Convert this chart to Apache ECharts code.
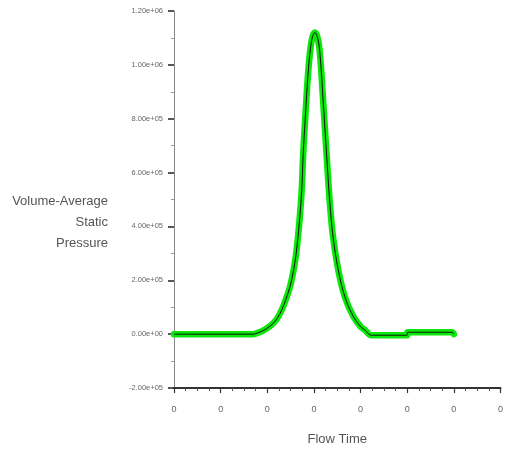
<!DOCTYPE html>
<html>
<head>
<meta charset="utf-8">
<script src="https://cdn.jsdelivr.net/npm/echarts@6/dist/echarts.min.js"></script>
<style>html,body{margin:0;padding:0;background:#fff}#c{width:506px;height:460px}</style>
</head>
<body>
<div id="c"></div>
<script>
const flowTime = [0, 1.70, 1.78, 1.89, 2.06, 2.20, 2.31, 2.40, 2.49, 2.56, 2.62, 2.69, 2.74, 2.77, 2.81, 2.88, 2.95, 3.02, 3.08, 3.13, 3.20, 3.27, 3.34, 3.41, 3.52, 3.66, 3.84, 4.00, 4.09, 4.23, 5.00, 5.005, 5.96, 6.00];
const pressure = [0, 0, 4e3, 1.1e4, 3e4, 5.5e4, 9e4, 1.3e5, 1.78e5, 2.35e5, 3.0e5, 4.2e5, 5.4e5, 6.7e5, 7.9e5, 9.8e5, 1.09e6, 1.12e6, 1.10e6, 1.04e6, 8.6e5, 6.7e5, 4.9e5, 3.6e5, 2.4e5, 1.4e5, 6.7e4, 2.8e4, 1.6e4, -4e3, -4e3, 7e3, 7e3, 0];
const yTickLabels = ['-2.00e+05', '0.00e+00', '2.00e+05', '4.00e+05', '6.00e+05', '8.00e+05', '1.00e+06', '1.20e+06'];
const xTickLabels = ['0', '0', '0', '0', '0', '0', '0', '0'];
const yTitleLines = ['Volume-Average', 'Static', 'Pressure'];
const xTitle = 'Flow Time';

const pts = flowTime.map((x, i) => [x, pressure[i]]);
const chart = echarts.init(document.getElementById('c'), null, {renderer: 'canvas'});
chart.setOption({
  animation: false,
  backgroundColor: '#fff',
  grid: {left: 174, right: 4, top: 11, bottom: 72},
  xAxis: {
    type: 'value', min: 0, max: 7, interval: 1,
    name: xTitle, nameLocation: 'middle', nameGap: 45,
    nameTextStyle: {fontFamily: 'Liberation Sans', fontSize: 13, color: '#555'},
    axisLine: {show: true, onZero: false, lineStyle: {color: '#333', width: 2}},
    axisTick: {show: true, length: 5, lineStyle: {color: '#333', width: 1.2}},
    minorTick: {show: true, splitNumber: 4, length: 3, lineStyle: {color: '#555'}},
    splitLine: {show: false},
    axisLabel: {margin: 17, fontFamily: 'Liberation Sans', fontSize: 9, color: '#666',
      formatter: (v) => xTickLabels[Math.round(v)]}
  },
  yAxis: {
    type: 'value', min: -2e5, max: 1.2e6, interval: 2e5,
    axisLine: {show: true, lineStyle: {color: '#888', width: 1}},
    axisTick: {show: true, length: 6, lineStyle: {color: '#222', width: 1.5}},
    minorTick: {show: true, splitNumber: 2, length: 3, lineStyle: {color: '#999'}},
    splitLine: {show: false},
    axisLabel: {margin: 11, fontFamily: 'Liberation Sans', fontSize: 7.5, color: '#666',
      formatter: (v) => yTickLabels[Math.round((v + 2e5) / 2e5)]}
  },
  graphic: yTitleLines.map((t, i) => ({
    type: 'text', x: 108, y: 201 + i * 21,
    style: {text: t, font: '13px "Liberation Sans"', fill: '#555', align: 'right', verticalAlign: 'middle'}
  })),
  series: [
    {type: 'line', data: pts, showSymbol: false, smooth: 0.35, silent: true,
     lineStyle: {color: '#0be60b', width: 6.5, cap: 'round', join: 'round'}, z: 2},
    {type: 'line', data: pts, showSymbol: false, smooth: 0.35, silent: true,
     lineStyle: {color: '#111', width: 1}, z: 3}
  ]
});
</script>
</body>
</html>
